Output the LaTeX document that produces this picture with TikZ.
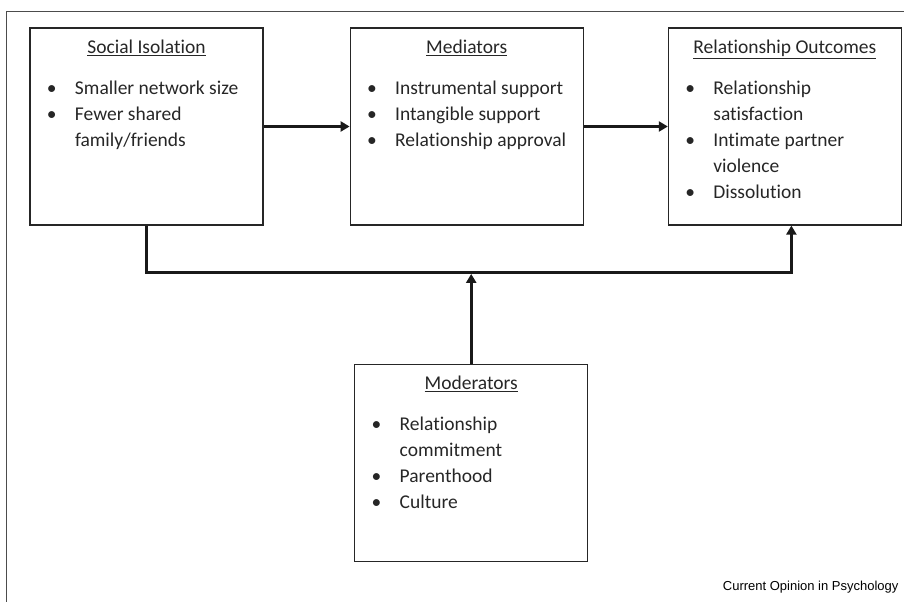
\documentclass[tikz,border=0pt]{standalone}
\usepackage{fontspec}
\setmainfont{Carlito}[Ligatures=NoCommon]
\newfontfamily\sourcefont{Liberation Sans}
\usetikzlibrary{positioning, arrows.meta}

% box contents: underlined heading, then bullet items
\newcommand{\boxtext}[2]{%
  \parbox[t][197pt][t]{233pt}{\fontsize{19.5}{26}\selectfont
    \parskip=0pt \hyphenpenalty=10000 \exhyphenpenalty=10000
    \vspace*{12pt}
    {\centering\underline{#1}\par}
    \vspace{15pt}
    \raggedright\leftskip=17pt\rightskip=8pt plus 1fil #2}}
\newcommand{\bul}[1]{\par\hangindent=28pt\hangafter=1\noindent\makebox[28pt][l]{\textbullet}#1}

\begin{document}
\begin{tikzpicture}[
    x=1pt, y=1pt,
    node distance=85pt,
    box/.style={rectangle, draw=black!85, line width=1.2pt, inner sep=0pt,
                minimum width=233pt, minimum height=197pt, text=black!85},
    arrow/.style={-{Triangle[length=9pt, width=10pt]}, line width=2.6pt, black!90}
]
\useasboundingbox (0,0) rectangle (904,602);

% frame
\draw[black!70, line width=0.8pt] (904,591) -- (6,591) -- (6,0);

\node[box] (iso) at (146.5,475.5) {\boxtext{Social Isolation}{%
  \bul{Smaller network size}
  \bul{Fewer shared family/friends}}};
\node[box] (med) [right=86pt of iso] {\boxtext{Mediators}{%
  \bul{Instrumental support}
  \bul{Intangible support}
  \bul{Relationship approval}}};
\node[box] (out) [right=84pt of med] {\boxtext{Relationship Outcomes}{%
  \bul{Relationship satisfaction}
  \bul{Intimate partner violence}
  \bul{Dissolution}}};
\node[box] (mod) [below=138pt of med, xshift=4.5pt] {\boxtext{Moderators}{%
  \bul{Relationship commitment}
  \bul{Parenthood}
  \bul{Culture}}};

\draw[arrow] (iso) -- (med);
\draw[arrow] (med) -- (out);
\draw[arrow] (iso.south) -- ++(0,-47) coordinate (bend) -| ([xshift=6.5pt]out.south);
\draw[arrow, shorten >=1.3pt] (mod.north) -- (mod.north |- bend);

\node[anchor=base east, font=\sourcefont\fontsize{13}{15}\selectfont] (source) at (902,12) {Current Opinion in Psychology};
\end{tikzpicture}
\end{document}
